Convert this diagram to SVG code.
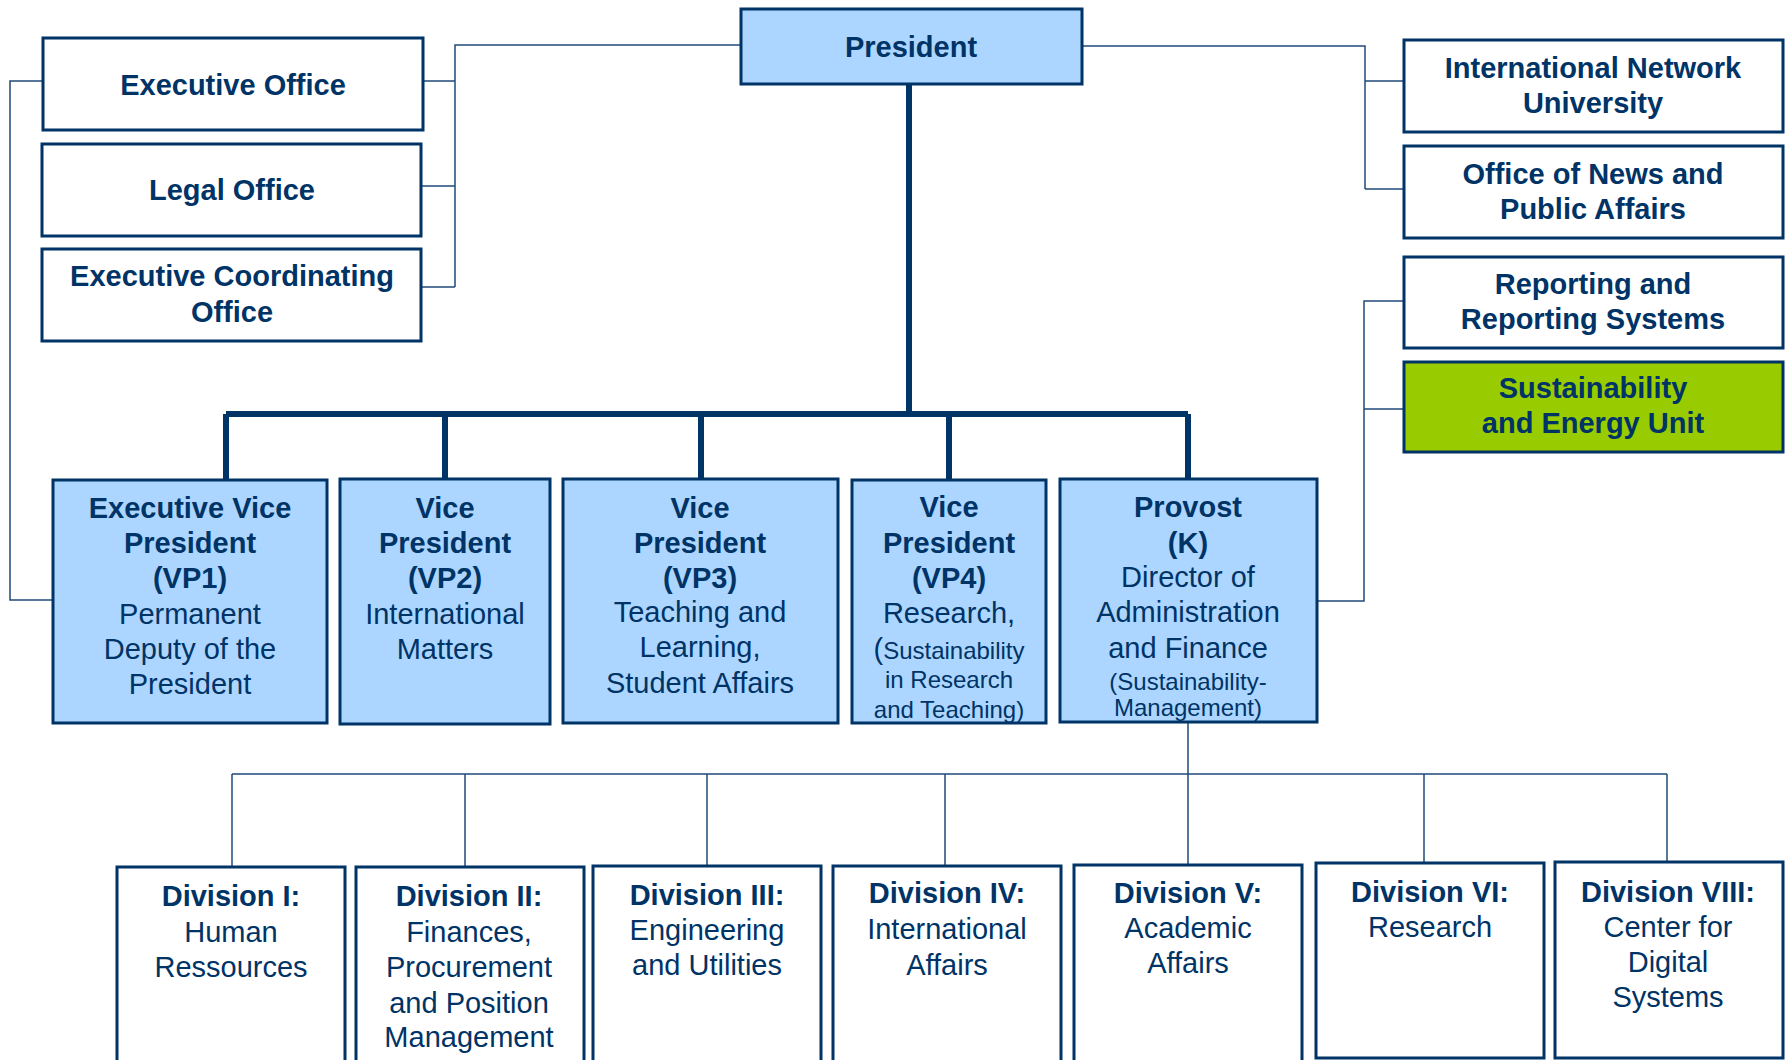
<svg xmlns="http://www.w3.org/2000/svg" width="1788" height="1060" viewBox="0 0 1788 1060">
  <style>
    .box { fill: #ffffff; stroke: #003366; stroke-width: 3; }
    .blue { fill: #acd6ff; }
    .green { fill: #99cc00; }
    .thin { fill: none; stroke: #1f4a7a; stroke-width: 1.5; }
    .thick { fill: none; stroke: #003366; stroke-width: 6; }
    text { font-family: "Liberation Sans", Arial, sans-serif; font-size: 29px; fill: #003366; text-anchor: middle; }
    .b { font-weight: bold; }
    .s { font-size: 24px; }
  </style>

  <rect width="1788" height="1060" fill="#ffffff"/>

  <!-- connectors -->
  <g id="connectors">
    <!-- staff offices left of the president -->
    <path class="thin" d="M741,45 H455 V287 M455,81 H423 M455,186 H421 M455,287 H421"/>
    <!-- executive office to EVP -->
    <path class="thin" d="M43,81 H10 V600 H53"/>
    <!-- staff offices right of the president -->
    <path class="thin" d="M1082,46 H1365 V189 M1365,81 H1404 M1365,189 H1404"/>
    <!-- reporting / sustainability to provost -->
    <path class="thin" d="M1404,301 H1364 V601 H1317 M1364,409 H1404"/>
    <!-- main line to the vice presidents -->
    <path class="thick" d="M909,84 V414 M226,414 H1188 M226,414 V479 M445,414 V479 M701,414 V479 M949,414 V479 M1188,414 V479"/>
    <!-- provost to divisions -->
    <path class="thin" d="M1188,722 V774 M232,774 H1667 M232,774 V867 M465,774 V867 M707,774 V866 M945,774 V866 M1188,774 V865 M1424,774 V863 M1667,774 V862"/>
  </g>

  <!-- president -->
  <g id="president">
    <rect class="box blue" x="741" y="9" width="341" height="75"/>
    <text class="b" x="911" y="57">President</text>
  </g>

  <!-- left staff offices -->
  <g id="executive-office">
    <rect class="box" x="43" y="38" width="380" height="92"/>
    <text class="b" x="233" y="95">Executive Office</text>
  </g>
  <g id="legal-office">
    <rect class="box" x="42" y="144" width="379" height="92"/>
    <text class="b" x="232" y="200">Legal Office</text>
  </g>
  <g id="executive-coordinating-office">
    <rect class="box" x="42" y="249" width="379" height="92"/>
    <text class="b" x="232" y="286">Executive Coordinating</text>
    <text class="b" x="232" y="322">Office</text>
  </g>

  <!-- right staff offices -->
  <g id="international-network-university">
    <rect class="box" x="1404" y="40" width="379" height="92"/>
    <text class="b" x="1593" y="78">International Network</text>
    <text class="b" x="1593" y="113">University</text>
  </g>
  <g id="news-public-affairs">
    <rect class="box" x="1404" y="146" width="379" height="92"/>
    <text class="b" x="1593" y="184">Office of News and</text>
    <text class="b" x="1593" y="219">Public Affairs</text>
  </g>
  <g id="reporting-systems">
    <rect class="box" x="1404" y="257" width="379" height="91"/>
    <text class="b" x="1593" y="294">Reporting and</text>
    <text class="b" x="1593" y="329">Reporting Systems</text>
  </g>
  <g id="sustainability-energy-unit">
    <rect class="box green" x="1404" y="362" width="379" height="90"/>
    <text class="b" x="1593" y="398">Sustainability</text>
    <text class="b" x="1593" y="433">and Energy Unit</text>
  </g>

  <!-- vice presidents -->
  <g id="vp1">
    <rect class="box blue" x="53" y="480" width="274" height="243"/>
    <text class="b" x="190" y="518">Executive Vice</text>
    <text class="b" x="190" y="553">President</text>
    <text class="b" x="190" y="588">(VP1)</text>
    <text x="190" y="624">Permanent</text>
    <text x="190" y="659">Deputy of the</text>
    <text x="190" y="694">President</text>
  </g>
  <g id="vp2">
    <rect class="box blue" x="340" y="479" width="210" height="245"/>
    <text class="b" x="445" y="518">Vice</text>
    <text class="b" x="445" y="553">President</text>
    <text class="b" x="445" y="588">(VP2)</text>
    <text x="445" y="624">International</text>
    <text x="445" y="659">Matters</text>
  </g>
  <g id="vp3">
    <rect class="box blue" x="563" y="479" width="275" height="244"/>
    <text class="b" x="700" y="518">Vice</text>
    <text class="b" x="700" y="553">President</text>
    <text class="b" x="700" y="588">(VP3)</text>
    <text x="700" y="622">Teaching and</text>
    <text x="700" y="657">Learning,</text>
    <text x="700" y="693">Student Affairs</text>
  </g>
  <g id="vp4">
    <rect class="box blue" x="852" y="480" width="194" height="243"/>
    <text class="b" x="949" y="517">Vice</text>
    <text class="b" x="949" y="553">President</text>
    <text class="b" x="949" y="588">(VP4)</text>
    <text x="949" y="623">Research,</text>
    <text class="s" x="949" y="659"><tspan font-size="29">(</tspan>Sustainability</text>
    <text class="s" x="949" y="688">in Research</text>
    <text class="s" x="949" y="718">and Teaching)</text>
  </g>
  <g id="provost">
    <rect class="box blue" x="1060" y="479" width="257" height="243"/>
    <text class="b" x="1188" y="517">Provost</text>
    <text class="b" x="1188" y="553">(K)</text>
    <text x="1188" y="587">Director of</text>
    <text x="1188" y="622">Administration</text>
    <text x="1188" y="658">and Finance</text>
    <text class="s" x="1188" y="690">(Sustainability-</text>
    <text class="s" x="1188" y="716">Management)</text>
  </g>

  <!-- divisions -->
  <g id="division-1">
    <rect class="box" x="117" y="867" width="228" height="210"/>
    <text class="b" x="231" y="906">Division I:</text>
    <text x="231" y="942">Human</text>
    <text x="231" y="977">Ressources</text>
  </g>
  <g id="division-2">
    <rect class="box" x="356" y="867" width="228" height="210"/>
    <text class="b" x="469" y="906">Division II:</text>
    <text x="469" y="942">Finances,</text>
    <text x="469" y="977">Procurement</text>
    <text x="469" y="1013">and Position</text>
    <text x="469" y="1047">Management</text>
  </g>
  <g id="division-3">
    <rect class="box" x="593" y="866" width="228" height="210"/>
    <text class="b" x="707" y="905">Division III:</text>
    <text x="707" y="940">Engineering</text>
    <text x="707" y="975">and Utilities</text>
  </g>
  <g id="division-4">
    <rect class="box" x="833" y="866" width="228" height="210"/>
    <text class="b" x="947" y="903">Division IV:</text>
    <text x="947" y="939">International</text>
    <text x="947" y="975">Affairs</text>
  </g>
  <g id="division-5">
    <rect class="box" x="1074" y="865" width="228" height="210"/>
    <text class="b" x="1188" y="903">Division V:</text>
    <text x="1188" y="938">Academic</text>
    <text x="1188" y="973">Affairs</text>
  </g>
  <g id="division-6">
    <rect class="box" x="1316" y="863" width="228" height="195"/>
    <text class="b" x="1430" y="902">Division VI:</text>
    <text x="1430" y="937">Research</text>
  </g>
  <g id="division-8">
    <rect class="box" x="1555" y="862" width="228" height="196"/>
    <text class="b" x="1668" y="902">Division VIII:</text>
    <text x="1668" y="937">Center for</text>
    <text x="1668" y="972">Digital</text>
    <text x="1668" y="1007">Systems</text>
  </g>
</svg>
